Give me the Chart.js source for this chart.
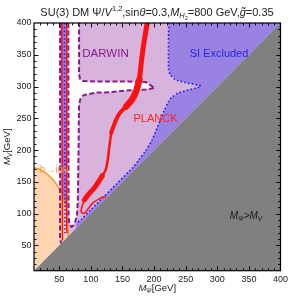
<!DOCTYPE html>
<html><head><meta charset="utf-8">
<script src="https://cdn.jsdelivr.net/npm/chart.js@4"></script>
<style>html,body{margin:0;padding:0;background:#fff;overflow:hidden}</style>
</head><body>
<canvas id="c" width="291" height="303" style="display:block"></canvas>
<script>
// ---- data (M_Psi, M_V) in GeV ----
const xTicks = [50,100,150,200,250,300,350,400];
const yTicks = [50,100,150,200,250,300,350,400];
const axisRange = [10,400];

const darwinRegion = [[51.2,400],[400,400],[53,53],[51.2,58]];
const darwinLeftLine = [[51.2,400],[51.2,62],[52,57],[53,53]];
const whiteChannel = [[64.3,400],[64.4,300],[64.5,200],[64.7,120],[64.8,95],[65.5,87],[67,82],[69.5,79],[72.5,81.5],[75,87],[77.8,95.2],[78.8,110],[79.4,121.6],[80.5,200.5],[81.0,250],[81.3,271.5],[83.6,281],[88,286],[92.5,287.3],[108.2,290.5],[129,290.9],[160.4,294],[187,295.2],[201.1,297.9],[196.8,300.4],[187,307],[160.4,307.8],[113.4,307.8],[87.2,308.6],[83,312],[81.3,318.9],[81.3,400]];

const siBoundary = [[223,400],[223,326.8],[226,318],[233.5,311],[251.7,305.8],[274,300.4],[238.7,290],[228,283],[223,276.7],[216,262],[210,247.8],[196.8,216],[186,198],[176,184.7],[166,172],[160.4,166.3],[140,146],[120,126],[100,106],[85,91],[77,84.8]];
const siRegionClose = [[76,76],[400,400]];
const siNarrow = [[53.9,400],[61.7,400],[61.7,80],[60.5,72],[57,62],[54.5,58],[53.9,60]];
const blueNarrow = [[58.1,400],[58.3,300],[58.8,200],[59,120],[59,69]];
const redNarrowLeft = [[53.9,400],[54.2,300],[54.6,200],[55,120],[55,58.5]];
const redNarrowRight = [[61.7,400],[61.7,300],[61.7,200],[61.7,120],[61.7,79],[62.5,70]];

const higgsInvCurve = [[10,171.6],[16.3,170.5],[24.6,166.3],[31.9,161],[40.2,153.2],[46,145.3],[50.7,137.4],[55.4,126.8],[58.6,116.4],[61.7,101.1],[63.7,84.8],[63.9,63.9]];
const higgsInvClose = [[10,10]];

const kinematicRegion = [[10,10],[400,400],[400,10]];

const planckA = [[189,400],[182.3,358.3],[176.8,311]];
const planckB = [[176.8,311],[171.3,292],[165.1,279.4],[155.7,268.4]];
const planckC = [[155.7,268.4],[146.3,258.9],[140,248],[132.2,227.3]];
const planckD = [[132.2,227.3],[129,203.7],[126.7,184.7],[123.5,168.9],[118.1,159.5]];
const planckE = [[118.1,159.5],[105.5,140.5],[95.4,129.5],[89.9,121.6]];
const planckF = [[89.9,121.6],[86.7,113.7],[84.7,102.6],[89.9,100.6],[102.9,116.4],[118.5,125.8],[122.8,125.8]];

// ---- build datasets ----
const toPts = a => a.map(p => ({x:p[0], y:p[1]}));
const datasets = [];
function poly(data, color){
  datasets.push({data:toPts(data), showLine:true, fill:'shape', backgroundColor:color,
    borderWidth:0, borderColor:'rgba(0,0,0,0)', pointRadius:0, tension:0});
}
function line(data, color, width, dash, tension){
  datasets.push({data:toPts(data), showLine:true, fill:false, borderColor:color, borderWidth:width,
    borderDash:dash||[], pointRadius:0, tension:tension||0, borderCapStyle:dash?'butt':'round', borderJoinStyle:'round'});
}
const C = {darwin:'#d8b3db', si:'#9a82e2', gray:'#808080', orFill:'#fed5b0', orLine:'#f7982a',
           darwinLine:'#8a1a8c', blue:'#1f1ff0', red:'#ff1010'};

poly(darwinRegion, C.darwin);
poly(whiteChannel, '#ffffff');
poly(siBoundary.concat(siRegionClose), C.si);
poly(siNarrow, C.si);
poly(higgsInvCurve.concat(higgsInvClose), C.orFill);
line(higgsInvCurve, C.orLine, 1.5, null, 0.3);
line(darwinLeftLine, C.darwinLine, 2, [5,2.5]);
line(whiteChannel, C.darwinLine, 2, [5,2.5]);
line(siBoundary, C.blue, 1.6, [1.6,2.2], 0.25);
line(blueNarrow, C.blue, 1.6, [1.6,2.2]);
line(redNarrowLeft, C.red, 1.5);
line(redNarrowRight, C.red, 1.5);
line(planckA, C.red, 5, null, 0.3);
line(planckB, C.red, 6.5, null, 0.3);
line(planckC, C.red, 4, null, 0.3);
line(planckD, C.red, 2.5, null, 0.3);
line(planckE, C.red, 5, null, 0.3);
line(planckF, C.red, 1.6, null, 0.3);
poly(kinematicRegion, C.gray);
datasets.forEach((d,i) => d.order = datasets.length - i);

// ---- rich text helper ----
const FAM = '"Liberation Sans", Arial, sans-serif';
function rich(ctx, parts, x, y, align){
  let w = 0;
  const ms = parts.map(p => { ctx.font = (p[2]?'italic ':'') + p[1] + 'px ' + FAM; const m = ctx.measureText(p[0]).width; w += m; return m; });
  let cx = align === 'center' ? x - w/2 : x;
  parts.forEach((p,i) => { ctx.font = (p[2]?'italic ':'') + p[1] + 'px ' + FAM; ctx.fillText(p[0], cx, y + (p[3]||0)); cx += ms[i]; });
}

const deco = {
  id:'deco',
  beforeDraw(chart){ const c = chart.ctx; c.save(); c.fillStyle='#fff'; c.fillRect(0,0,chart.width,chart.height); c.restore(); },
  afterDraw(chart){
    const ctx = chart.ctx, a = chart.chartArea, xs = chart.scales.x, ys = chart.scales.y;
    ctx.save();
    // frame ticks
    ctx.strokeStyle = '#111'; ctx.lineWidth = 1;
    ctx.beginPath();
    for (let v = axisRange[0]+10; v < axisRange[1]; v += 10){
      const L = (v % 50 === 0) ? 4.5 : 2.5;
      const px = Math.round(xs.getPixelForValue(v)) + 0.5;
      ctx.moveTo(px, a.bottom); ctx.lineTo(px, a.bottom - L);
      ctx.moveTo(px, a.top); ctx.lineTo(px, a.top + L);
      const py = Math.round(ys.getPixelForValue(v)) + 0.5;
      ctx.moveTo(a.left, py); ctx.lineTo(a.left + L, py);
      ctx.moveTo(a.right, py); ctx.lineTo(a.right - L, py);
    }
    ctx.stroke();
    ctx.strokeStyle = '#000'; ctx.lineWidth = 1.2;
    ctx.strokeRect(a.left, a.top, a.right - a.left, a.bottom - a.top);

    ctx.textBaseline = 'alphabetic';
    // title
    ctx.fillStyle = '#222';
    rich(ctx, [['SU(3) DM \u03A8/',11,0],['V',11,1],['1,2',7.5,0,-4.5],[',sin',11,0],['\u03B8',11,1],['=0.3,',11,0],
               ['M',11,1],['H',7.5,1,2.5],['2',5.5,0,4.5],['=800 GeV,',11,0],['g\u0303',11,1],['=0.35',11,0]], 157, 15.5, 'center');
    // axis titles
    rich(ctx, [['M',9.5,1],['\u03A8',6.5,0,2],['[GeV]',9.5,0]], (a.left+a.right)/2, 291, 'center');
    ctx.save(); ctx.translate(10, (a.top+a.bottom)/2); ctx.rotate(-Math.PI/2);
    rich(ctx, [['M',9.5,1],['V',6.5,1,2],['[GeV]',9.5,0]], 0, 0, 'center');
    ctx.restore();
    // region labels
    ctx.fillStyle = '#8a1a8c'; rich(ctx, [['DARWIN',11.5,0]], 105.5, 57, 'center');
    ctx.fillStyle = '#2626dc'; rich(ctx, [['SI Excluded',11,0]], 219, 57, 'center');
    ctx.fillStyle = '#ff2020'; rich(ctx, [['PLANCK',11,0]], 155.5, 121.5, 'center');
    ctx.fillStyle = '#f5a042'; rich(ctx, [['h\u2192inv',10,0]], 54, 172.5, 'center');
    ctx.fillStyle = '#1a1a1a'; rich(ctx, [['M',10,1],['\u03A8',6.5,0,2],['>',10,0],['M',10,1],['V',6.5,1,2]], 246, 218.5, 'center');
    ctx.restore();
  }
};

new Chart(document.getElementById('c'), {
  type:'scatter',
  data:{datasets},
  options:{
    responsive:false, animation:false, devicePixelRatio:1,
    layout:{padding:{top:23, right:8, left:0, bottom:0}},
    plugins:{legend:{display:false}, tooltip:{enabled:false}},
    scales:{
      x:{type:'linear', min:axisRange[0], max:axisRange[1], grid:{display:false, drawTicks:false, tickLength:0}, border:{display:false},
         afterBuildTicks: s => { s.ticks = xTicks.map(v => ({value:v})); },
         afterFit: s => { s.height = 32.3; },
         ticks:{padding:3, maxRotation:0, autoSkip:false, color:'#222', font:{family:'Liberation Sans', size:9}}},
      y:{type:'linear', min:axisRange[0], max:axisRange[1], grid:{display:false, drawTicks:false, tickLength:0}, border:{display:false},
         afterBuildTicks: s => { s.ticks = yTicks.map(v => ({value:v})); },
         afterFit: s => { s.width = 34; },
         ticks:{padding:2.5, autoSkip:false, color:'#222', font:{family:'Liberation Sans', size:9}}}
    }
  },
  plugins:[deco]
});
</script>
</body></html>
